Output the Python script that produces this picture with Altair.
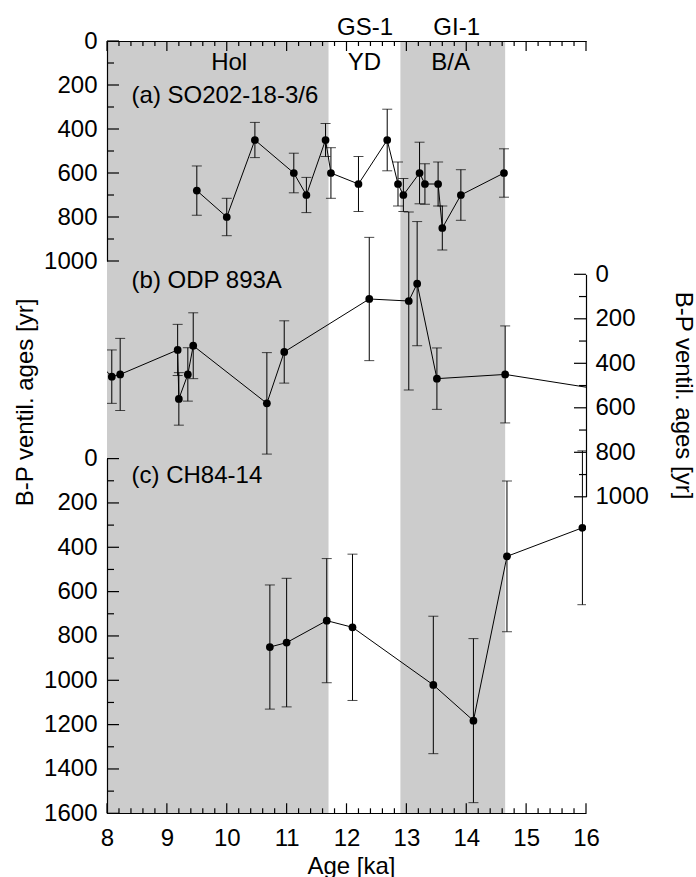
import altair as alt
import pandas as pd

# ---------------- data ----------------
# (a) SO202-18-3/6
a_age = [9.5, 10.0, 10.47, 11.12, 11.33, 11.65, 11.74, 12.2, 12.68, 12.86, 12.95,
         13.22, 13.31, 13.53, 13.6, 13.91, 14.63]
a_val = [680, 800, 450, 600, 700, 450, 600, 650, 450, 650, 700,
         600, 650, 650, 850, 700, 600]
a_err = [112, 85, 80, 90, 80, 75, 115, 125, 140, 100, 75,
         140, 92, 100, 100, 115, 110]

# (b) ODP 893A
b_age = [7.9, 8.08, 8.22, 9.18, 9.2, 9.35, 9.44, 10.67, 10.96, 12.38, 13.04,
         13.18, 13.51, 14.65, 16.3]
b_val = [410, 460, 450, 340, 560, 450, 321, 580, 349, 111, 120,
         42, 469, 450, 520]
b_err = [120, 120, 162, 115, 118, 120, 148, 228, 140, 277, 400,
         279, 138, 218, 200]

# (c) CH84-14
c_age = [10.72, 11.0, 11.67, 12.1, 13.45, 14.12, 14.68, 15.94]
c_val = [850, 830, 731, 761, 1021, 1182, 441, 312]
c_err = [280, 290, 280, 330, 310, 370, 340, 347]

# shaded periods (Holocene, Bølling/Allerød)
band_start = [8.0, 12.9]
band_end = [11.7, 14.65]

period_labels = ["Hol", "YD", "B/A", "GS-1", "GI-1"]
period_age = [10.04, 12.3, 13.74, 12.31, 13.84]
period_level = [132, 132, 132, -27, -27]

panel_a = ["(a) SO202-18-3/6"]
panel_b = ["(b) ODP 893A"]
panel_c = ["(c) CH84-14"]

x_major = list(range(8, 17))
x_minor = [round(8 + i * 0.2, 1) for i in range(41) if i % 5 != 0]
ya_major = list(range(0, 1001, 200))
ya_minor = list(range(100, 1000, 200))
yc_major = list(range(0, 1601, 200))
yc_minor = list(range(100, 1600, 200))

# ---------------- helpers ----------------
FONT = "Liberation Sans"
FS = 24
W, H = 479, 772
PX_PER_KA = W / 8.0
PX_PER_YR_A = 220 / 1000
PX_PER_YR_C = (772.3 - 417.6) / 1600


def frame(age, val, err):
    return pd.DataFrame({
        "age": age,
        "val": val,
        "lo": [v - e for v, e in zip(val, err)],
        "hi": [v + e for v, e in zip(val, err)],
    })


dfa, dfb, dfc = frame(a_age, a_val, a_err), frame(b_age, b_val, b_err), frame(c_age, c_val, c_err)

xs = alt.Scale(domain=[8, 16], nice=False, zero=False)


def yscale(dom, rng):
    return alt.Scale(domain=dom, range=rng, nice=False, zero=False)


SA = yscale([0, 1000], [0, 220])
SB = yscale([0, 1000], [233.3, 455.8])
SC = yscale([0, 1600], [417.6, 772.3])

lab = dict(grid=False, ticks=False, domain=True, domainColor="black", domainWidth=1.2,
           labelColor="black", labelFont=FONT, labelFontSize=FS, titleFont=FONT,
           titleFontSize=FS, titleFontWeight="normal", titleColor="black",
           labelOverlap=False, labelFlush=False, format="d", zindex=2)

ax_x_labels = alt.Axis(orient="bottom", values=x_major, labelPadding=13,
                       title="Age [ka]", titleX=244, titleY=60, titleBaseline="alphabetic", **lab)
ax_x_top = alt.Axis(orient="top", values=x_major, labels=False, ticks=False, domain=True,
                    domainColor="black", domainWidth=1.2, grid=False, title=None, zindex=2)
ax_a_labels = alt.Axis(orient="left", values=ya_major, labelPadding=10,
                       title="B-P ventil. ages [yr]", titleX=-82, titleY=361, titleAngle=270,
                       titleBaseline="middle", titleAlign="center", **lab)
ax_b_labels = alt.Axis(orient="right", values=ya_major, labelPadding=9,
                       title="B-P ventil. ages [yr]", titleX=96, titleY=354, titleAngle=90,
                       titleBaseline="middle", titleAlign="center", **lab)
ax_c_labels = alt.Axis(orient="left", values=yc_major, labelPadding=10, title=None, **lab)


# inward-pointing tick marks; both ends go through the chart's own scales
def xticks(values, yscale_, start, length_units, name):
    n = len(values)
    df = pd.DataFrame({name: values, "y0": [start] * n, "y1": [start + length_units] * n})
    return alt.Chart(df).mark_rule(color="black", strokeWidth=1.2).encode(
        x=alt.X(f"{name}:Q", scale=xs, axis=None),
        y=alt.Y("y0:Q", scale=yscale_, axis=None),
        y2="y1:Q",
    )


def yticks(values, yscale_, start, length_ka, name):
    n = len(values)
    df = pd.DataFrame({name: values, "x0": [start] * n, "x1": [start + length_ka] * n})
    return alt.Chart(df).mark_rule(color="black", strokeWidth=1.2).encode(
        y=alt.Y(f"{name}:Q", scale=yscale_, axis=None),
        x=alt.X("x0:Q", scale=xs, axis=None),
        x2="x1:Q",
    )


ticks = [
    xticks(x_major, SA, 0, 10 / PX_PER_YR_A, "tx1"),
    xticks(x_minor, SA, 0, 5 / PX_PER_YR_A, "tx2"),
    xticks(x_major, SC, 1600, -10 / PX_PER_YR_C, "tx3"),
    xticks(x_minor, SC, 1600, -5 / PX_PER_YR_C, "tx4"),
    yticks(ya_major, SA, 8, 12 / PX_PER_KA, "ta1"),
    yticks(ya_minor, SA, 8, 7 / PX_PER_KA, "ta2"),
    yticks(yc_major, SC, 8, 12 / PX_PER_KA, "tc1"),
    yticks(yc_minor, SC, 8, 7 / PX_PER_KA, "tc2"),
    yticks(ya_major, SB, 16, -12 / PX_PER_KA, "tb1"),
    yticks(ya_minor, SB, 16, -7 / PX_PER_KA, "tb2"),
]


def series(df, scale, y_axis, x_axis):
    base = alt.Chart(df)
    rules = base.mark_rule(color="black", strokeWidth=1, clip=True).encode(
        x=alt.X("age:Q", scale=xs, axis=None),
        y=alt.Y("lo:Q", scale=scale, axis=None),
        y2="hi:Q",
    )
    caps = base.transform_fold(["lo", "hi"], as_=["k", "cap"]).mark_tick(
        orient="horizontal", size=10, thickness=1, color="black", clip=True
    ).encode(
        x=alt.X("age:Q", scale=xs, axis=None),
        y=alt.Y("cap:Q", scale=scale, axis=None),
    )
    line = base.mark_line(color="black", strokeWidth=1, clip=True).encode(
        x=alt.X("age:Q", scale=xs, axis=x_axis),
        y=alt.Y("val:Q", scale=scale, axis=y_axis),
        order="age:Q",
    )
    pts = base.mark_circle(color="black", size=60, opacity=1, clip=True).encode(
        x=alt.X("age:Q", scale=xs, axis=None),
        y=alt.Y("val:Q", scale=scale, axis=None),
    )
    return [rules, caps, line, pts]


bands = alt.Chart(pd.DataFrame({"s": band_start, "e": band_end})).mark_rect(color="#cccccc").encode(
    x=alt.X("s:Q", scale=xs, axis=None), x2="e:Q"
)

periods = alt.Chart(pd.DataFrame({"label": period_labels, "age": period_age, "lvl": period_level})).mark_text(
    font=FONT, fontSize=FS, color="black", align="center", baseline="alphabetic"
).encode(
    x=alt.X("age:Q", scale=xs, axis=None),
    y=alt.Y("lvl:Q", scale=SA, axis=None),
    text="label:N",
)


def panel(label, level, scale):
    return alt.Chart(pd.DataFrame({"label": label, "age": [8.41], "lvl": [level]})).mark_text(
        font=FONT, fontSize=FS, color="black", align="left", baseline="alphabetic"
    ).encode(
        x=alt.X("age:Q", scale=xs, axis=None),
        y=alt.Y("lvl:Q", scale=scale, axis=None),
        text="label:N",
    )


layers = [bands, periods,
          panel(panel_a, 280, SA), panel(panel_b, 62, SB), panel(panel_c, 109, SC)]
layers += series(dfa, SA, ax_a_labels, ax_x_labels)
layers += series(dfb, SB, ax_b_labels, ax_x_top)
layers += series(dfc, SC, ax_c_labels, None)
layers += ticks

chart = alt.layer(*layers).resolve_scale(y="independent").resolve_axis(
    x="independent", y="independent"
).properties(
    width=W, height=H,
    padding={"left": 107, "top": 41, "right": 110, "bottom": 64},
    autosize=alt.AutoSizeParams(type="none"),
    background="white",
).configure_view(stroke=None)

chart.save("out.html", embed_options={"renderer": "svg", "actions": False})
